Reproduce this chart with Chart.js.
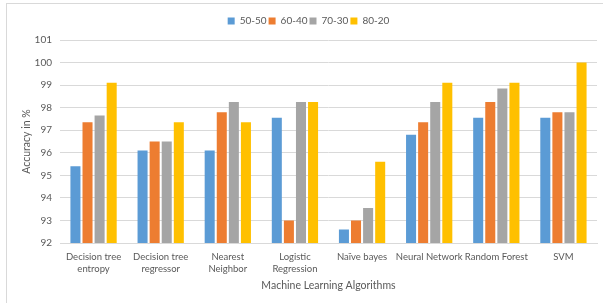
<!DOCTYPE html>
<html>
<head>
<meta charset="utf-8">
<script src="https://cdn.jsdelivr.net/npm/chart.js@4"></script>
<style>
  html, body { margin: 0; padding: 0; background: #fff; }
  #wrap { position: relative; width: 603px; height: 303px; }
  #frame { position: absolute; left: 6px; top: 3px; right: 0; bottom: 0; border-left: 1px solid #D9D9D9; border-top: 1px solid #D9D9D9; }
  canvas { position: absolute; left: 0; top: 0; }
</style>
</head>
<body>
<div id="wrap">
  <div id="frame"></div>
  <canvas id="chart" width="603" height="303"></canvas>
</div>
<script>
// categories (multi-line labels as Excel wraps them)
const algorithms = [
  ['Decision tree', 'entropy'],
  ['Decision tree', 'regressor'],
  ['Nearest', 'Neighbor'],
  ['Logistic', 'Regression'],
  'Naïve bayes',
  'Neural Network',
  'Random Forest',
  'SVM'
];

// accuracy per train-test split
const split5050 = [95.4, 96.1, 96.1, 97.55, 92.6, 96.8, 97.55, 97.55];
const split6040 = [97.35, 96.5, 97.8, 93.0, 93.0, 97.35, 98.25, 97.8];
const split7030 = [97.65, 96.5, 98.25, 98.25, 93.55, 98.25, 98.85, 97.8];
const split8020 = [99.1, 97.35, 97.35, 98.25, 95.6, 99.1, 99.1, 100];

const splitNames = ['50-50', '60-40', '70-30', '80-20'];
const colors = ['#5B9BD5', '#ED7D31', '#A5A5A5', '#FFC000'];

const yMin = 92;
const yMax = 101;

const fontFamily = 'Lato, "Liberation Sans", sans-serif';
const textColor = '#595959';

// extra room below the legend, like the Excel layout
const legendGap = {
  id: 'legendGap',
  beforeLayout(chart) {
    const legend = chart.legend;
    if (!legend || legend._gapPatched) return;
    const fit = legend.fit;
    legend.fit = function () {
      fit.call(this);
      this.height += 4;
    };
    legend._gapPatched = true;
  }
};

const ctx = document.getElementById('chart').getContext('2d');
new Chart(ctx, {
  type: 'bar',
  data: {
    labels: algorithms,
    datasets: [split5050, split6040, split7030, split8020].map((vals, i) => ({
      label: splitNames[i],
      data: vals,
      backgroundColor: colors[i],
      borderWidth: 0,
      categoryPercentage: 0.72,
      barPercentage: 0.83
    }))
  },
  plugins: [legendGap],
  options: {
    responsive: false,
    animation: false,
    layout: { padding: { left: 20, right: 6, top: 14, bottom: 0 } },
    plugins: {
      legend: {
        position: 'top',
        labels: {
          boxWidth: 7,
          boxHeight: 7,
          padding: 2,
          color: textColor,
          font: { family: fontFamily, size: 10 }
        }
      },
      tooltip: { enabled: false }
    },
    scales: {
      y: {
        min: yMin,
        max: yMax,
        ticks: {
          stepSize: 1,
          color: textColor,
          padding: 8,
          font: { family: fontFamily, size: 10 }
        },
        grid: { color: '#D9D9D9', drawTicks: false },
        border: { display: false },
        title: {
          display: true,
          text: 'Accuracy in %',
          color: textColor,
          padding: { top: 0, bottom: 0 },
          font: { family: fontFamily, size: 10.5 }
        },
        afterFit: (scale) => { scale.width = 40; }
      },
      x: {
        ticks: {
          color: textColor,
          maxRotation: 0,
          autoSkip: false,
          padding: 8,
          font: { family: fontFamily, size: 9.5, lineHeight: 1.25 }
        },
        grid: { display: false, drawTicks: false },
        border: { display: true, color: '#D9D9D9' },
        title: {
          display: true,
          text: 'Machine Learning Algorithms',
          color: textColor,
          padding: { top: 0, bottom: 11 },
          font: { family: fontFamily, size: 10.5 }
        },
        afterFit: (scale) => { scale.height = 60; }
      }
    }
  }
});
</script>
</body>
</html>
